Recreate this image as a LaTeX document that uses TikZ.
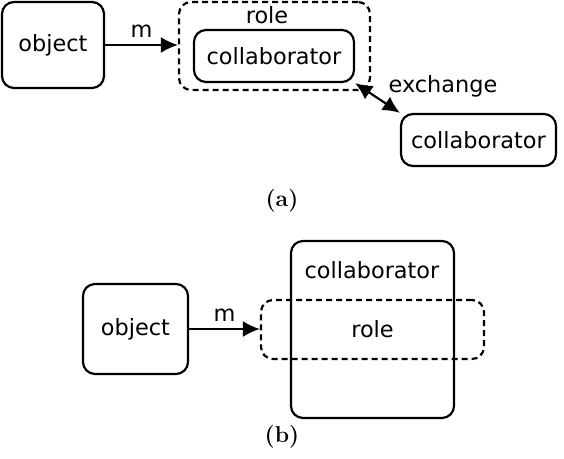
\documentclass[tikz,border=0pt]{standalone}
\usepackage{fontspec}
\newfontfamily\dejavu{DejaVu Sans}
\usepackage{tikz}
\usetikzlibrary{arrows.meta}
\tikzset{>={Latex[length=8.5pt,width=8pt]}}
\tikzset{box/.style={rectangle,draw,rounded corners=6pt,line width=1.1pt,inner sep=0pt},
  rolebox/.style={box,dash pattern=on 3pt off 2pt},
  txt/.style={font=\dejavu\fontsize{11.2}{13}\selectfont},
  subcap/.style={font=\fontsize{11.5}{13}\selectfont\bfseries}}

\begin{document}
\begin{tikzpicture}[x=0.5pt,y=-0.5pt,txt]
      \useasboundingbox (0,0) rectangle (564,459);
      % (a)
      \node (objA) at (53,45)[box,minimum width=51pt,minimum height=43pt] {object};
      \node (roleA) at (274.5,46)[rolebox,minimum width=95.5pt,minimum height=44pt] {};
      \node (roleAlab) at (267,15) {role};
      \node (collA) at (274,56)[box,minimum width=80pt,minimum height=26pt] {collaborator};
      \node (collB) at (478.5,140)[box,minimum width=77.5pt,minimum height=26pt] {collaborator};
      \node (exch) at (443,86) {exchange};
      \node (capA) at (282,201)[subcap] {(a)};
        \draw [->,line width=1.1pt] (objA.east) -- node[above] {m} (objA.east -| roleA.west);
        \draw [<->,line width=1.1pt] (collA.south east) -- (collB.north west);
      % (b)
      \node (objB) at (135.5,329)[box,minimum width=52.5pt,minimum height=45pt] {object};
      \node (collC) at (372.5,329.5)[box,minimum width=81.5pt,minimum height=88.5pt] {};
      \node (collClab) at (372,270) {collaborator};
      \node (roleB) at (372.5,329.5)[rolebox,minimum width=111.5pt,minimum height=29.5pt] {role};
      \node (capB) at (282,437)[subcap] {(b)};
        \draw [->,line width=1.1pt] (objB.east) -- node[above] {m} (objB.east -| roleB.west);
\end{tikzpicture}
\end{document}
